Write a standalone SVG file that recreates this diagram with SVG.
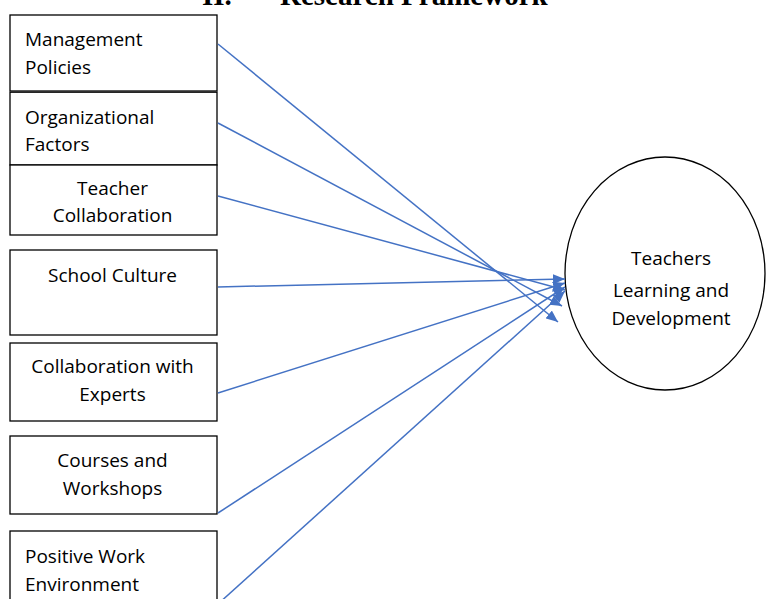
<svg xmlns="http://www.w3.org/2000/svg" width="766" height="599" viewBox="0 0 766 599">
<defs>
<style>
.box{fill:#fff;stroke:#000;stroke-width:1.3}
.t{font-family:"Open Sans","Liberation Sans",sans-serif;font-size:19px;fill:#000}
.c{text-anchor:middle}
.ttl{font-family:"Liberation Serif",serif;font-weight:bold;font-size:29px;fill:#000}
.ln{stroke:#4472C4;stroke-width:1.5;fill:none;marker-end:url(#ah)}
</style>
<marker id="ah" viewBox="0 0 10 10" refX="10" refY="5" markerWidth="12" markerHeight="10" markerUnits="userSpaceOnUse" orient="auto" preserveAspectRatio="none">
<path d="M0,0 L10,5 L0,10 z" fill="#4472C4"/>
</marker>
</defs>
<rect width="766" height="599" fill="#fff"/>
<text class="ttl" x="202" y="5">II.</text>
<text class="ttl" x="280" y="5">Research Framework</text>

<g id="n1"><rect class="box" x="10" y="15" width="207" height="76"/><text class="t" x="25" y="46">Management</text><text class="t" x="25" y="74">Policies</text></g>
<g id="n2"><rect class="box" x="10" y="92.2" width="207" height="72.8"/><text class="t" x="25" y="124">Organizational</text><text class="t" x="25" y="151">Factors</text></g>
<g id="n3"><rect class="box" x="10" y="165" width="207" height="70"/><text class="t c" x="112.5" y="195">Teacher</text><text class="t c" x="112.5" y="222">Collaboration</text></g>
<g id="n4"><rect class="box" x="10" y="250" width="207" height="85"/><text class="t c" x="112.5" y="282">School Culture</text></g>
<g id="n5"><rect class="box" x="10" y="343" width="207" height="78"/><text class="t c" x="112.5" y="373">Collaboration with</text><text class="t c" x="112.5" y="401">Experts</text></g>
<g id="n6"><rect class="box" x="10" y="436" width="207" height="78"/><text class="t c" x="112.5" y="467">Courses and</text><text class="t c" x="112.5" y="495">Workshops</text></g>
<g id="n7"><rect class="box" x="10" y="531" width="207" height="80"/><text class="t" x="25" y="563">Positive Work</text><text class="t" x="25" y="591">Environment</text></g>

<g id="target"><ellipse cx="665" cy="273.5" rx="100" ry="116.5" fill="#fff" stroke="#000" stroke-width="1.3"/>
<text class="t c" x="671" y="265">Teachers</text><text class="t c" x="671" y="297">Learning and</text><text class="t c" x="671" y="325">Development</text></g>

<g id="connectors">
<line class="ln" x1="218" y1="44" x2="558" y2="322"/>
<line class="ln" x1="218" y1="123" x2="562" y2="306"/>
<line class="ln" x1="218" y1="196" x2="565" y2="290"/>
<line class="ln" x1="218" y1="287" x2="565" y2="279"/>
<line class="ln" x1="218" y1="393" x2="565" y2="283"/>
<line class="ln" x1="218" y1="513" x2="565" y2="287"/>
<line class="ln" x1="218" y1="604" x2="565" y2="291"/>
</g>
</svg>
